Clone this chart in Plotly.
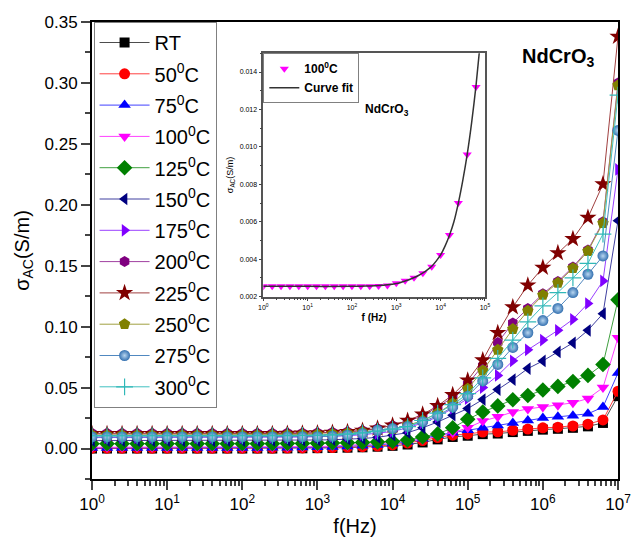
import plotly.graph_objects as go

# ---------------- data ----------------
freq = [1, 1.585, 2.512, 3.981, 6.310, 10, 15.85, 25.12, 39.81, 63.10,
        100, 158.5, 251.2, 398.1, 631.0, 1000, 1585, 2512, 3981, 6310,
        1.0e4, 1.585e4, 2.512e4, 3.981e4, 6.310e4, 1.0e5, 1.585e5, 2.512e5, 3.981e5, 6.310e5,
        1.0e6, 1.585e6, 2.512e6, 3.981e6, 6.310e6, 1.0e7]

labels = ["RT", "50<sup>0</sup>C", "75<sup>0</sup>C", "100<sup>0</sup>C", "125<sup>0</sup>C",
          "150<sup>0</sup>C", "175<sup>0</sup>C", "200<sup>0</sup>C", "225<sup>0</sup>C",
          "250<sup>0</sup>C", "275<sup>0</sup>C", "300<sup>0</sup>C"]

s_rt = [0.0000, 0.0000, 0.0000, 0.0000, 0.0000, 0.0000, 0.0000, 0.0000, 0.0000, 0.0000,
        0.0000, 0.0000, 0.0000, 0.0001, 0.0002, 0.0003, 0.0005, 0.0007, 0.0010, 0.0015,
        0.0022, 0.0033, 0.0050, 0.0075, 0.0095, 0.0105, 0.0118, 0.0123, 0.0135, 0.0145,
        0.0155, 0.0162, 0.0170, 0.0182, 0.0210, 0.0430]
s_50 = [0.0003, 0.0003, 0.0003, 0.0003, 0.0003, 0.0003, 0.0003, 0.0003, 0.0003, 0.0003,
        0.0003, 0.0003, 0.0003, 0.0004, 0.0005, 0.0006, 0.0008, 0.0011, 0.0015, 0.0020,
        0.0030, 0.0045, 0.0065, 0.0090, 0.0110, 0.0120, 0.0135, 0.0137, 0.0150, 0.0160,
        0.0170, 0.0175, 0.0185, 0.0200, 0.0235, 0.0470]
s_75 = [0.0005, 0.0005, 0.0005, 0.0005, 0.0005, 0.0005, 0.0005, 0.0005, 0.0005, 0.0005,
        0.0005, 0.0005, 0.0006, 0.0007, 0.0008, 0.0010, 0.0013, 0.0017, 0.0022, 0.0030,
        0.0040, 0.0055, 0.0080, 0.0110, 0.0130, 0.0150, 0.0170, 0.0190, 0.0210, 0.0230,
        0.0250, 0.0260, 0.0270, 0.0285, 0.0340, 0.0620]
s_100 = [0.0010, 0.0010, 0.0010, 0.0010, 0.0010, 0.0010, 0.0010, 0.0010, 0.0010, 0.0010,
         0.0010, 0.0010, 0.0011, 0.0012, 0.0014, 0.0016, 0.0020, 0.0025, 0.0032, 0.0040,
         0.0050, 0.0060, 0.0075, 0.0100, 0.0130, 0.0170, 0.0225, 0.0260, 0.0300, 0.0325,
         0.0340, 0.0355, 0.0375, 0.0410, 0.0500, 0.0910]
s_125 = [0.0040, 0.0040, 0.0040, 0.0040, 0.0040, 0.0040, 0.0040, 0.0040, 0.0040, 0.0040,
         0.0040, 0.0040, 0.0040, 0.0041, 0.0042, 0.0043, 0.0045, 0.0047, 0.0050, 0.0053,
         0.0058, 0.0070, 0.0095, 0.0120, 0.0170, 0.0240, 0.0300, 0.0350, 0.0400, 0.0435,
         0.0480, 0.0510, 0.0550, 0.0600, 0.0690, 0.1220]
s_150 = [0.0065, 0.0065, 0.0065, 0.0065, 0.0065, 0.0065, 0.0065, 0.0065, 0.0065, 0.0065,
         0.0065, 0.0065, 0.0066, 0.0067, 0.0068, 0.0070, 0.0072, 0.0076, 0.0082, 0.0092,
         0.0110, 0.0130, 0.0170, 0.0218, 0.0273, 0.0328, 0.0402, 0.0484, 0.0566, 0.0656,
         0.0719, 0.0793, 0.0867, 0.0970, 0.1107, 0.1870]
s_175 = [0.0090, 0.0090, 0.0090, 0.0090, 0.0090, 0.0090, 0.0090, 0.0090, 0.0090, 0.0090,
         0.0090, 0.0090, 0.0091, 0.0092, 0.0094, 0.0097, 0.0100, 0.0105, 0.0113, 0.0125,
         0.0140, 0.0170, 0.0210, 0.0260, 0.0330, 0.0410, 0.0500, 0.0600, 0.0720, 0.0810,
         0.0890, 0.0970, 0.1060, 0.1190, 0.1375, 0.2290]
s_200 = [0.0125, 0.0125, 0.0125, 0.0125, 0.0125, 0.0125, 0.0125, 0.0125, 0.0125, 0.0125,
         0.0125, 0.0125, 0.0126, 0.0127, 0.0128, 0.0130, 0.0133, 0.0138, 0.0147, 0.0165,
         0.0190, 0.0220, 0.0270, 0.0340, 0.0420, 0.0530, 0.0680, 0.0870, 0.1030, 0.1150,
         0.1270, 0.1370, 0.1490, 0.1630, 0.1860, 0.3000]
s_225 = [0.0120, 0.0120, 0.0120, 0.0120, 0.0120, 0.0120, 0.0120, 0.0120, 0.0120, 0.0120,
         0.0120, 0.0120, 0.0121, 0.0122, 0.0124, 0.0127, 0.0131, 0.0137, 0.0148, 0.0165,
         0.0190, 0.0230, 0.0280, 0.0350, 0.0440, 0.0560, 0.0725, 0.0950, 0.1160, 0.1340,
         0.1485, 0.1605, 0.1720, 0.1895, 0.2170, 0.3380]
s_250 = [0.0110, 0.0110, 0.0110, 0.0110, 0.0110, 0.0110, 0.0110, 0.0110, 0.0110, 0.0110,
         0.0110, 0.0110, 0.0111, 0.0112, 0.0114, 0.0116, 0.0120, 0.0126, 0.0135, 0.0148,
         0.0160, 0.0190, 0.0230, 0.0290, 0.0370, 0.0490, 0.0640, 0.0810, 0.0980, 0.1130,
         0.1260, 0.1360, 0.1480, 0.1620, 0.1850, 0.2980]
s_275 = [0.0095, 0.0095, 0.0095, 0.0095, 0.0095, 0.0095, 0.0095, 0.0095, 0.0095, 0.0095,
         0.0095, 0.0095, 0.0095, 0.0096, 0.0096, 0.0097, 0.0100, 0.0110, 0.0123, 0.0150,
         0.0164, 0.0180, 0.0220, 0.0270, 0.0340, 0.0430, 0.0555, 0.0690, 0.0830, 0.0950,
         0.1050, 0.1150, 0.1280, 0.1430, 0.1580, 0.2610]
s_300 = [0.0105, 0.0105, 0.0105, 0.0105, 0.0105, 0.0105, 0.0105, 0.0105, 0.0105, 0.0105,
         0.0105, 0.0105, 0.0105, 0.0106, 0.0107, 0.0109, 0.0112, 0.0118, 0.0128, 0.0143,
         0.0160, 0.0180, 0.0230, 0.0290, 0.0360, 0.0450, 0.0580, 0.0740, 0.0890, 0.1040,
         0.1170, 0.1280, 0.1400, 0.1520, 0.1760, 0.2900]
series = [s_rt, s_50, s_75, s_100, s_125, s_150, s_175, s_200, s_225, s_250, s_275, s_300]

# inset (100 C with curve fit)
inset_freq = freq[:25]
inset_100 = [0.00255, 0.00255, 0.00255, 0.00255, 0.00255, 0.00255, 0.00255, 0.00255, 0.00255, 0.00255,
             0.00255, 0.00255, 0.00256, 0.00257, 0.00260, 0.00272, 0.00285, 0.00301, 0.00325, 0.00360,
             0.00423, 0.00530, 0.00700, 0.00960, 0.01320]
fit_freq = [1, 10, 100, 158.5, 251.2, 398.1, 631.0, 1000, 1259, 1585, 1995, 2512, 3162, 3981,
            5012, 6310, 7943, 1.0e4, 1.259e4, 1.585e4, 1.995e4, 2.512e4, 3.162e4, 3.981e4,
            5.012e4, 6.310e4, 7.943e4, 1.0e5]
fit_val = [0.00255, 0.00255, 0.00255, 0.00256, 0.00257, 0.00259, 0.00263, 0.00270, 0.00276,
           0.00284, 0.00292, 0.00302, 0.00313, 0.00327, 0.00343, 0.00362, 0.00390, 0.00423,
           0.00470, 0.00528, 0.00600, 0.00700, 0.00820, 0.00960, 0.01130, 0.01330, 0.01570, 0.01850]

x_tickvals = [1, 10, 100, 1000, 1e4, 1e5, 1e6, 1e7]
x_ticktext = ["10<sup>0</sup>", "10<sup>1</sup>", "10<sup>2</sup>", "10<sup>3</sup>",
              "10<sup>4</sup>", "10<sup>5</sup>", "10<sup>6</sup>", "10<sup>7</sup>"]
in_tickvals = [1, 10, 100, 1000, 1e4, 1e5]
in_ticktext = x_ticktext[:6]

# ---------------- styles ----------------
styles = [
    dict(symbol="square", color="#000000", line="#4d4d4d", size=10),
    dict(symbol="circle", color="#ff0000", line="#ff4040", size=11),
    dict(symbol="triangle-up", color="#0000ff", line="#4040ff", size=11),
    dict(symbol="triangle-down", color="#ff00ff", line="#ff40ff", size=11),
    dict(symbol="diamond", color="#008000", line="#40a040", size=12),
    dict(symbol="triangle-left", color="#000080", line="#4040a0", size=11),
    dict(symbol="triangle-right", color="#8000ff", line="#9a40ff", size=11),
    dict(symbol="hexagon", color="#800080", line="#a040a0", size=11),
    dict(symbol="star", color="#800000", line="#a04040", size=13),
    dict(symbol="pentagon", color="#808000", line="#a0a040", size=12),
    dict(symbol="circle", color="#3370b0", line="#5088c0", size=11),
    dict(symbol="cross-thin-open", color="#30b8b8", line="#40c0c0", size=12),
]

fig = go.Figure()
for name, vals, st in zip(labels, series, styles):
    marker = dict(symbol=st["symbol"], color=st["color"], size=st["size"],
                  line=dict(width=0, color=st["color"]))
    if st["symbol"] == "cross-thin-open":
        marker["line"] = dict(width=1.2, color=st["color"])
    if name.startswith("275"):
        marker["gradient"] = dict(type="radial", color="#b8d6f0")
    fig.add_trace(go.Scatter(x=freq, y=vals, name=name, mode="lines+markers",
                             line=dict(color=st["line"], width=1), marker=marker,
                             legendgroup=name, xaxis="x", yaxis="y", legend="legend"))

# inset
fig.add_trace(go.Scatter(x=inset_freq, y=inset_100, name="<b>100<sup>0</sup>C</b>", mode="markers",
                         marker=dict(symbol="triangle-down", color="#ff00ff", size=8),
                         xaxis="x2", yaxis="y2", legend="legend2"))
fig.add_trace(go.Scatter(x=fit_freq, y=fit_val, name="<b>Curve fit</b>", mode="lines",
                         line=dict(color="#333333", width=1.5, shape="spline"),
                         xaxis="x2", yaxis="y2", legend="legend2"))

FONT = "Arial, Liberation Sans, sans-serif"
NARROW = "Liberation Sans Narrow, Arial Narrow, Arial, sans-serif"

fig.update_layout(
    width=631, height=550,
    margin=dict(l=92, r=13, t=22, b=71),
    paper_bgcolor="white", plot_bgcolor="white",
    font=dict(family=FONT, color="black"),
    xaxis=dict(type="log", range=[0, 7], tickvals=x_tickvals, ticktext=x_ticktext,
               automargin=False, ticklabeloverflow="allow",
               ticks="outside", ticklen=9, tickwidth=2, showline=True, linewidth=2,
               linecolor="black", mirror=True, showgrid=False, zeroline=False,
               tickfont=dict(size=17),
               minor=dict(ticks="outside", ticklen=5, tickwidth=1.5, dtick="D1", showgrid=False),
               title=dict(text="f(Hz)", font=dict(size=20), standoff=6)),
    yaxis=dict(range=[-0.025, 0.35], tickvals=[0, 0.05, 0.10, 0.15, 0.20, 0.25, 0.30, 0.35],
               automargin=False, ticklabeloverflow="allow",
               tickformat=".2f", ticks="outside", ticklen=9, tickwidth=2, showline=True,
               linewidth=2, linecolor="black", mirror=True, showgrid=False, zeroline=False,
               tickfont=dict(size=17),
               minor=dict(ticks="outside", ticklen=5, tickwidth=1.5, dtick=0.025, tick0=0,
                          showgrid=False),
               title=dict(text="σ<sub>AC</sub>(S/m)", font=dict(size=20), standoff=10)),
    xaxis2=dict(type="log", range=[0, 5], domain=[0.3257, 0.747], anchor="y2",
                automargin=False, ticklabeloverflow="allow",
                tickvals=in_tickvals, ticktext=in_ticktext, ticks="outside", ticklen=3,
                tickwidth=1, showline=True, linewidth=1.5, linecolor="#555555", mirror=True,
                showgrid=False, zeroline=False, tickfont=dict(size=7, family=NARROW),
                minor=dict(ticks="outside", ticklen=2, tickwidth=1, dtick="D1", showgrid=False),
                title=dict(text="<b>f (Hz)</b>", font=dict(size=10, family=NARROW), standoff=4)),
    yaxis2=dict(range=[0.002, 0.015], domain=[0.399, 0.9315], anchor="x2",
                automargin=False, ticklabeloverflow="allow",
                tickvals=[0.002, 0.004, 0.006, 0.008, 0.010, 0.012, 0.014], tickformat=".3f",
                ticks="outside", ticklen=3, tickwidth=1, showline=True, linewidth=1.5,
                linecolor="#555555", mirror=True, showgrid=False, zeroline=False,
                tickfont=dict(size=7, family=NARROW),
                minor=dict(ticks="outside", ticklen=2, tickwidth=1, dtick=0.001, tick0=0,
                           showgrid=False),
                title=dict(text="σ<sub>AC</sub>(S/m)", font=dict(size=9, family=NARROW), standoff=4)),
    legend=dict(x=0.003, y=1.0, xanchor="left", yanchor="top", bgcolor="white",
                bordercolor="#808080", borderwidth=1, font=dict(size=20, family=FONT),
                tracegroupgap=2.3, itemwidth=50),
    legend2=dict(x=0.3257, y=0.9315, xanchor="left", yanchor="top", bgcolor="white",
                 bordercolor="#808080", borderwidth=1,
                 font=dict(size=12, family=NARROW), itemwidth=30),
    annotations=[
        dict(text="<b>NdCrO<sub>3</sub></b>", x=0.886, y=0.953, xref="paper", yref="paper",
             showarrow=False, font=dict(size=20, family=FONT), xanchor="center"),
        dict(text="<b>NdCrO<sub>3</sub></b>", x=0.561, y=0.83, xref="paper", yref="paper",
             showarrow=False, font=dict(size=12, family=NARROW), xanchor="center"),
    ],
)

fig.write_html("out.html")
